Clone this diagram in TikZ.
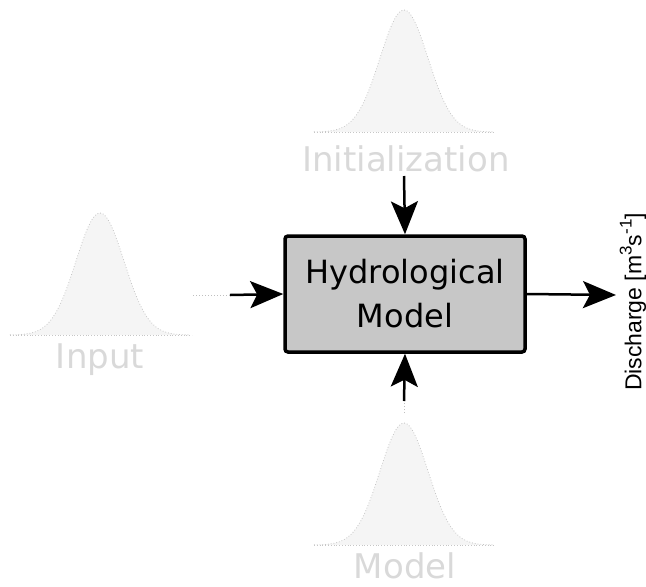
\documentclass[tikz,border=0pt]{standalone}
\usepackage{fontspec}
\setmainfont{DejaVu Sans}
\newfontfamily\arialfont{Liberation Sans}
\usetikzlibrary{arrows.meta}
\newcommand{\supr}[1]{\raisebox{0.42em}{\fontsize{17}{17}\selectfont #1}}
\begin{document}
\begin{tikzpicture}[x=1pt,y=-1pt,
  distbase/.style={draw=gray!45, dotted, line width=0.8pt},
  faintlabel/.style={text=gray!30, font=\fontsize{34}{40}\selectfont, inner sep=0pt},
  modelbox/.style={draw=black, line width=3.5pt, rounded corners=3pt, fill=black!22,
     minimum width=240pt, minimum height=116pt, align=center,
     font=\fontsize{32}{44}\selectfont},
  flow/.style={line width=2.5pt, -{Stealth[length=33pt,width=27pt,inset=7pt]}},
  stub/.style={draw=gray!50, dotted, line width=1pt},
  declare function={gss(\t)=122*exp(-(\t*\t)/(2*24*24));}
]
\useasboundingbox (0,0) rectangle (646,587);

% distributions
\fill[gray!8] plot[domain=-90:90,samples=80] ({404+\x},{132-gss(\x)}) -- cycle;
\draw[distbase] plot[domain=-90:90,samples=80] ({404+\x},{132-gss(\x)});
\draw[distbase] (314,132) -- (494,132);

\fill[gray!8] plot[domain=-90:90,samples=80] ({100+\x},{335-gss(\x)}) -- cycle;
\draw[distbase] plot[domain=-90:90,samples=80] ({100+\x},{335-gss(\x)});
\draw[distbase] (10,335) -- (192,335);

\fill[gray!8] plot[domain=-90:90,samples=80] ({404+\x},{545-gss(\x)}) -- cycle;
\draw[distbase] plot[domain=-90:90,samples=80] ({404+\x},{545-gss(\x)});
\draw[distbase] (314,545) -- (494,545);

% labels
\node[faintlabel] (init) at (406,159) {Initialization};
\node[faintlabel] (inp) at (100,360) {Input};
\node[faintlabel] (mdl) at (405,566) {Model};

% box
\node[modelbox] (hm) at (405,294) {Hydrological\\Model};

% connectors
\coordinate (inS) at (193,295);
\coordinate (inM) at (230,295);
\coordinate (mdS) at (404,413);
\coordinate (mdM) at (404,401);
\coordinate (initS) at (404,176);
\coordinate (outE) at (616,295);

\draw[stub] (inS) -- (inM);
\draw[flow] (inM) -- (hm.west);
\draw[flow] (initS) -- (hm.north);
\draw[stub] (mdS) -- (mdM);
\draw[flow] (mdM) -- (hm.south);
\draw[flow] (hm.east) -- (outE);

\node[rotate=90, font=\arialfont\fontsize{23}{25}\selectfont, inner sep=0pt] (dis) at (633,302)
  {Discharge [m\supr{3}s\supr{-1}]};
\end{tikzpicture}
\end{document}
